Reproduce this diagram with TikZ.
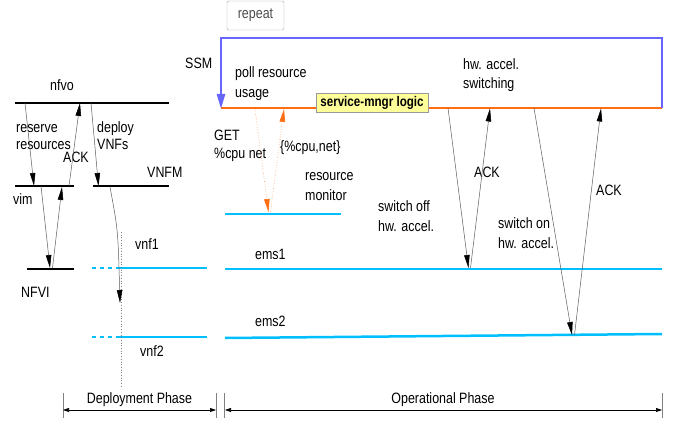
\documentclass[tikz,border=0pt]{standalone}
\usepackage{fontspec}
\setmainfont{Liberation Sans}[FakeStretch=0.83]
\usetikzlibrary{arrows.meta}
\definecolor{ssmblue}{RGB}{102,102,255}
\definecolor{ssmorange}{RGB}{255,110,20}
\definecolor{lifecyan}{RGB}{0,191,255}
\definecolor{boxyellow}{RGB}{255,255,153}
\definecolor{msggray}{RGB}{90,90,90}
\begin{document}
\begin{tikzpicture}[x=1pt,y=-1pt,
  font=\fontsize{15}{17}\selectfont,
  lbl/.style={anchor=base west,inner sep=0pt},
  blackline/.style={line width=2pt,black},
  cyanline/.style={line width=2.5pt,lifecyan},
  cyandots/.style={line width=2.5pt,lifecyan,dash pattern=on 3.5pt off 4.5pt},
  msg/.style={draw=msggray,line width=0.5pt,-{Triangle[length=13pt,width=5.5pt,color=black]}},
  omsg/.style={draw=ssmorange!70,line width=0.6pt,dotted,-{Triangle[length=13pt,width=5.5pt,color=ssmorange]}},
  phase/.style={line width=0.6pt,black,{Triangle[length=6pt,width=4pt]}-{Triangle[length=6pt,width=4pt]}},
  tick/.style={line width=0.4pt,gray}
]
\useasboundingbox (0,0) rectangle (673,422);

% ---- coordinates of lifelines ----
\coordinate (nfvoL) at (15,103);  \coordinate (nfvoR) at (169,103);
\coordinate (vimL) at (15,186);   \coordinate (vimR) at (74,186);
\coordinate (vnfmL) at (93,186);  \coordinate (vnfmR) at (169,186);
\coordinate (nfviL) at (27,269);  \coordinate (nfviR) at (74,269);
\coordinate (vnfAd) at (92,268);  \coordinate (vnfAs) at (120,268); \coordinate (vnfAe) at (207,268);
\coordinate (vnfBd) at (92,337);  \coordinate (vnfBs) at (120,337); \coordinate (vnfBe) at (207,337);
\coordinate (rmL) at (225,214);   \coordinate (rmR) at (341,214);
\coordinate (emsAL) at (225,269); \coordinate (emsAR) at (662,269);
\coordinate (emsBL) at (225,338); \coordinate (emsBR) at (662,334);
\coordinate (ssmL) at (221,108);  \coordinate (ssmR) at (662,108);
\coordinate (loopTR) at (662,38); \coordinate (loopTL) at (221,38);
\coordinate (vdTop) at (121,232); \coordinate (vdBot) at (121,386);

% ---- SSM loop and timeline ----
\draw[ssmorange,line width=1.5pt] (ssmL) -- (ssmR);
\draw[ssmblue,line width=2.5pt,-{Triangle[length=15pt,width=8pt]}]
  (ssmR) -- (loopTR) -- (loopTL) -- ([yshift=-1pt]ssmL);
\node[draw=gray!70,rounded corners=1.5pt,text=black!70,minimum width=57pt,minimum height=29pt,inner sep=0pt]
  (repeat) at (255.5,15.5) {repeat};
\node[draw=gray!80,fill=boxyellow,minimum width=112pt,minimum height=19pt,inner sep=0pt,
  font=\fontsize{14}{16}\selectfont\bfseries] (logic) at (372,102.5) {service-mngr logic};

% ---- lifelines ----
\draw[blackline] (nfvoL) -- (nfvoR);
\draw[blackline] (vimL) -- (vimR);
\draw[blackline] (vnfmL) -- (vnfmR);
\draw[blackline] (nfviL) -- (nfviR);
\draw[cyandots] (vnfAd) -- (vnfAs);
\draw[cyanline] (vnfAs) -- (vnfAe);
\draw[cyandots] (vnfBd) -- (vnfBs);
\draw[cyanline] (vnfBs) -- (vnfBe);
\draw[cyanline] (rmL) -- (rmR);
\draw[cyanline] (emsAL) -- (emsAR);
\draw[cyanline] (emsBL) -- (emsBR);
\draw[gray,dotted,line width=0.7pt] (vdTop) -- (vdBot);

% ---- labels ----
\node[lbl] (tSSM) at (185,69) {SSM};
\node[lbl] (tpoll1) at (235,78) {poll resource};
\node[lbl] (tpoll2) at (235,98) {usage};
\node[lbl] (thw1) at (463,70) {hw. accel.};
\node[lbl] (thw2) at (463,89) {switching};
\node[lbl] (tget1) at (214,141) {GET};
\node[lbl] (tget2) at (214,159) {\%cpu net};
\node[lbl] (tcpu) at (280,152) {\{\%cpu,net\}};
\node[lbl] (trm1) at (305,181) {resource};
\node[lbl] (trm2) at (305,201) {monitor};
\node[lbl] (toff1) at (378,212) {switch off};
\node[lbl] (toff2) at (378,232) {hw. accel.};
\node[lbl] (tackA) at (474,178) {ACK};
\node[lbl] (tackB) at (596,196) {ACK};
\node[lbl] (ton1) at (498,229) {switch on};
\node[lbl] (ton2) at (498,249) {hw. accel.};
\node[lbl] (tems1) at (255,260) {ems1};
\node[lbl] (tems2) at (255,327) {ems2};
\node[lbl] (tnfvo) at (50,91) {nfvo};
\node[lbl] (tres1) at (16,133) {reserve};
\node[lbl] (tres2) at (16,150) {resources};
\node[lbl] (tackC) at (63,163) {ACK};
\node[lbl] (tdep1) at (97,133) {deploy};
\node[lbl] (tdep2) at (97,150) {VNFs};
\node[lbl] (tvnfm) at (147,178) {VNFM};
\node[lbl] (tvim) at (13,205) {vim};
\node[lbl] (tvnf1) at (135,250) {vnf1};
\node[lbl] (tnfvi) at (21,298) {NFVI};
\node[lbl] (tvnf2) at (140,357) {vnf2};

% ---- message arrows ----
\coordinate (m1a) at (25,103);  \coordinate (m1b) at (34,186);
\coordinate (m2a) at (69,186);  \coordinate (m2b) at (80,103);
\coordinate (m3a) at (91,103);  \coordinate (m3b) at (98.5,186);
\coordinate (m4a) at (41,186);  \coordinate (m4b) at (50,268);
\coordinate (m5a) at (52.5,268); \coordinate (m5b) at (62,187);
\coordinate (m6a) at (110,187); \coordinate (m6b) at (120,303);
\coordinate (m7a) at (448,108); \coordinate (m7b) at (468.5,268);
\coordinate (m8a) at (470.5,268); \coordinate (m8b) at (490,108.5);
\coordinate (m9a) at (534,108); \coordinate (m9b) at (572,335);
\coordinate (m10a) at (574.5,335); \coordinate (m10b) at (601,108.5);
\coordinate (o1a) at (255,109); \coordinate (o1b) at (268.5,212);
\coordinate (o2a) at (270.5,212); \coordinate (o2b) at (284,109);

\draw[msg] (m1a) -- (m1b);
\draw[msg] (m2a) -- (m2b);
\draw[msg] (m3a) -- (m3b);
\draw[msg] (m4a) -- (m4b);
\draw[msg] (m5a) -- (m5b);
\draw[msg] (m6a) .. controls (118,230) .. (m6b);
\draw[msg] (m7a) -- (m7b);
\draw[msg] (m8a) -- (m8b);
\draw[msg] (m9a) -- (m9b);
\draw[msg] (m10a) -- (m10b);
\draw[omsg] (o1a) -- (o1b);
\draw[omsg] (o2a) -- (o2b);

% ---- phases ----
\coordinate (pdL) at (63,410); \coordinate (pdR) at (216,410);
\coordinate (poL) at (225,410); \coordinate (poR) at (662,410);
\draw[tick] (63,393) -- (63,418);
\draw[tick] (216,393) -- (216,418);
\draw[tick] (224.5,393) -- (224.5,418);
\draw[tick] (662,393) -- (662,418);
\draw[phase] (pdL) -- (pdR);
\draw[phase] (poL) -- (poR);
\node[anchor=base,inner sep=0pt] (tdp) at (139.5,403) {Deployment Phase};
\node[anchor=base,inner sep=0pt] (top) at (443,403) {Operational Phase};
\end{tikzpicture}
\end{document}
